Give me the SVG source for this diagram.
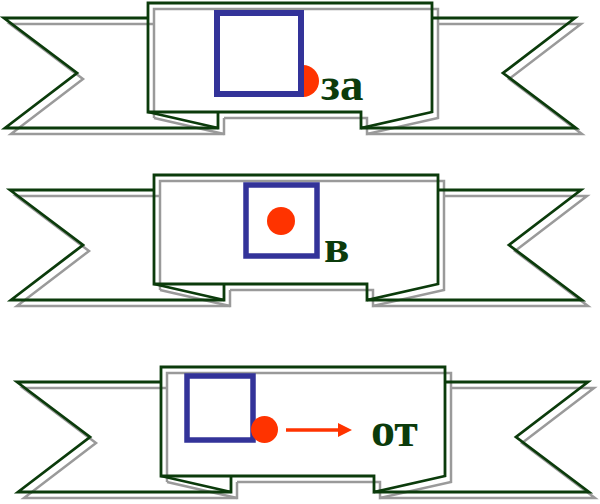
<svg xmlns="http://www.w3.org/2000/svg" width="600" height="504" viewBox="0 0 600 504">
<style>
.sh{fill:none;stroke:#9a9a9a;stroke-width:2.5;stroke-linejoin:miter}
.ol{fill:none;stroke:#0b3b0b;stroke-width:2.8;stroke-linejoin:miter}
.sq{fill:#fff;stroke:#333399;stroke-width:6}
.sqn{fill:none;stroke:#333399;stroke-width:5.5}
.dot{fill:#ff3300}
.lbl{font-family:"Liberation Serif","Times New Roman",serif;font-weight:bold;fill:#0b3b0b}
</style>
<defs>
<g id="outline">
<path d="M148,18 H4 L77,73 L5,128 H218 V112"/>
<path d="M148,112 L218,128"/>
<path d="M148,3 H432 V112 L361,128 V112 H148 Z"/>
<path d="M432,18 H575 L503,73 L576,128 H361"/>
</g>
<g id="shadow">
<path d="M154,24 H10 L83,79 L11,134 H224 V118"/>
<path d="M154,118 L224,134"/>
<path d="M154,118 V9 H438 V118 L367,134 V118 H224"/>
<path d="M438,24 H581 L509,79 L582,134 H367"/>
</g>
<marker id="ah" viewBox="0 0 10 10" refX="0" refY="5" markerWidth="4" markerHeight="4" orient="auto" markerUnits="strokeWidth">
<path d="M0,0 L10,5 L0,10 Z" fill="#ff3300"/>
</marker>
</defs>

<g id="banner-za">
<use href="#shadow" class="sh"/>
<use href="#outline" class="ol"/>
<circle class="dot" cx="303" cy="81" r="16"/>
<rect class="sq" x="217" y="13" width="84" height="81"/>
<text class="lbl" x="321" y="100" font-size="47">за</text>
</g>

<g id="banner-v" transform="translate(6,172)">
<use href="#shadow" class="sh"/>
<use href="#outline" class="ol"/>
</g>
<g id="banner-v-content">
<rect class="sqn" x="246" y="185" width="71" height="71"/>
<circle class="dot" cx="281" cy="221" r="14"/>
<text class="lbl" x="324" y="262" font-size="47">в</text>
</g>

<g id="banner-ot" transform="translate(13,364)">
<use href="#shadow" class="sh"/>
<use href="#outline" class="ol"/>
</g>
<g id="banner-ot-content">
<rect class="sqn" x="187" y="376" width="66" height="64"/>
<circle class="dot" cx="264.5" cy="429.5" r="13.5"/>
<text class="lbl" x="371" y="446" font-size="48">от</text>
</g>

<g id="connectors">
<line x1="286" y1="430" x2="338" y2="430" stroke="#ff3300" stroke-width="3.5" marker-end="url(#ah)"/>
</g>
</svg>
